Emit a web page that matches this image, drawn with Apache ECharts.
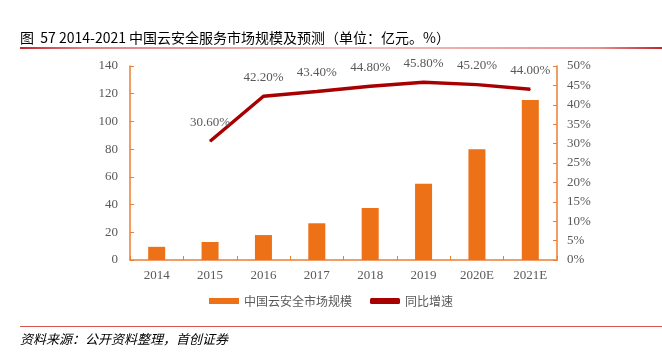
<!DOCTYPE html>
<html><head><meta charset="utf-8">
<script src="https://cdn.jsdelivr.net/npm/echarts@6/dist/echarts.min.js"></script>
<style>html,body{margin:0;padding:0;background:#fff}#c{width:662px;height:359px}</style>
</head><body><div id="c"></div>
<script>
const categories = ['2014','2015','2016','2017','2018','2019','2020E','2021E'];
const marketSize = [9.5, 13, 18, 26.5, 37.5, 55, 80, 115.5];
const growth = [null, 30.6, 42.2, 43.4, 44.8, 45.8, 45.2, 44.0];
const leftTicks = [0, 140, 20];
const rightTicks = [0, 50, 5];

const chart = echarts.init(document.getElementById('c'));
const serif = '"Liberation Serif", "Times New Roman", serif';
const cjk = '"Noto Sans CJK SC", sans-serif';
chart.setOption({
  animation: false,
  graphic: [
    {type:'text', left: 20, top: 31, style:{text:'图  57 2014-2021 中国云安全服务市场规模及预测（单位：亿元。%）', font:'14px "Noto Sans CJK SC", sans-serif', fill:'#000'}},
    {type:'rect', shape:{x:20, y:47, width:642, height:2}, style:{fill:new echarts.graphic.LinearGradient(0,0,1,0,[{offset:0,color:'#c0272d'},{offset:0.1,color:'#e08080'},{offset:0.5,color:'#f3c3c3'},{offset:0.9,color:'#e89090'},{offset:1,color:'#c0272d'}])}},
    {type:'rect', shape:{x:20, y:326, width:642, height:1}, style:{fill:'#d9534f'}},
    {type:'text', left: 20, top: 333, style:{text:'资料来源：公开资料整理，首创证券', font:'italic 13px "Noto Sans CJK SC", sans-serif', fill:'#000'}}
  ],
  grid: {left:130, right:105, top:66, bottom:99},
  legend: {
    bottom: 47, left: 'center', itemGap: 18, itemWidth: 30, itemHeight: 6,
    textStyle: {fontFamily: cjk, fontSize: 12, color: '#595959'},
    data: [
      {name:'中国云安全市场规模', icon:'rect'},
      {name:'同比增速', icon:'roundRect'}
    ]
  },
  xAxis: {
    type: 'category', data: categories,
    axisLine: {lineStyle:{color:'#ED7D31', width:1.5}},
    axisTick: {show:true, lineStyle:{color:'#ED7D31'}, length:4, inside:true},
    axisLabel: {fontFamily: serif, fontSize: 13, color:'#595959', margin: 9}
  },
  yAxis: [
    {type:'value', min:leftTicks[0], max:leftTicks[1], interval:leftTicks[2],
     axisLine:{show:true, lineStyle:{color:'#ED7D31', width:1.5}},
     axisTick:{show:true, inside:true, length:4, lineStyle:{color:'#ED7D31'}},
     splitLine:{show:false},
     axisLabel:{fontFamily: serif, fontSize: 13, color:'#595959', margin: 12}},
    {type:'value', min:rightTicks[0], max:rightTicks[1], interval:rightTicks[2],
     axisLine:{show:true, lineStyle:{color:'#ED7D31', width:1.5}},
     axisTick:{show:true, inside:true, length:4, lineStyle:{color:'#ED7D31'}},
     splitLine:{show:false},
     axisLabel:{fontFamily: serif, fontSize: 13, color:'#595959', margin: 10, formatter:'{value}%'}}
  ],
  series: [
    {name:'中国云安全市场规模', type:'bar', data: marketSize, barWidth: 17,
     itemStyle:{color:'#ED7117'}},
    {name:'同比增速', type:'line', yAxisIndex:1, data: growth, symbol:'circle', symbolSize:1, showSymbol:true,
     lineStyle:{color:'#A80000', width:3.5}, itemStyle:{color:'#A80000'},
     label:{show:true, position:'top', distance:12, fontFamily: serif, fontSize:13, color:'#595959',
       formatter: p => p.value.toFixed(2) + '%'}}
  ]
});
</script></body></html>
